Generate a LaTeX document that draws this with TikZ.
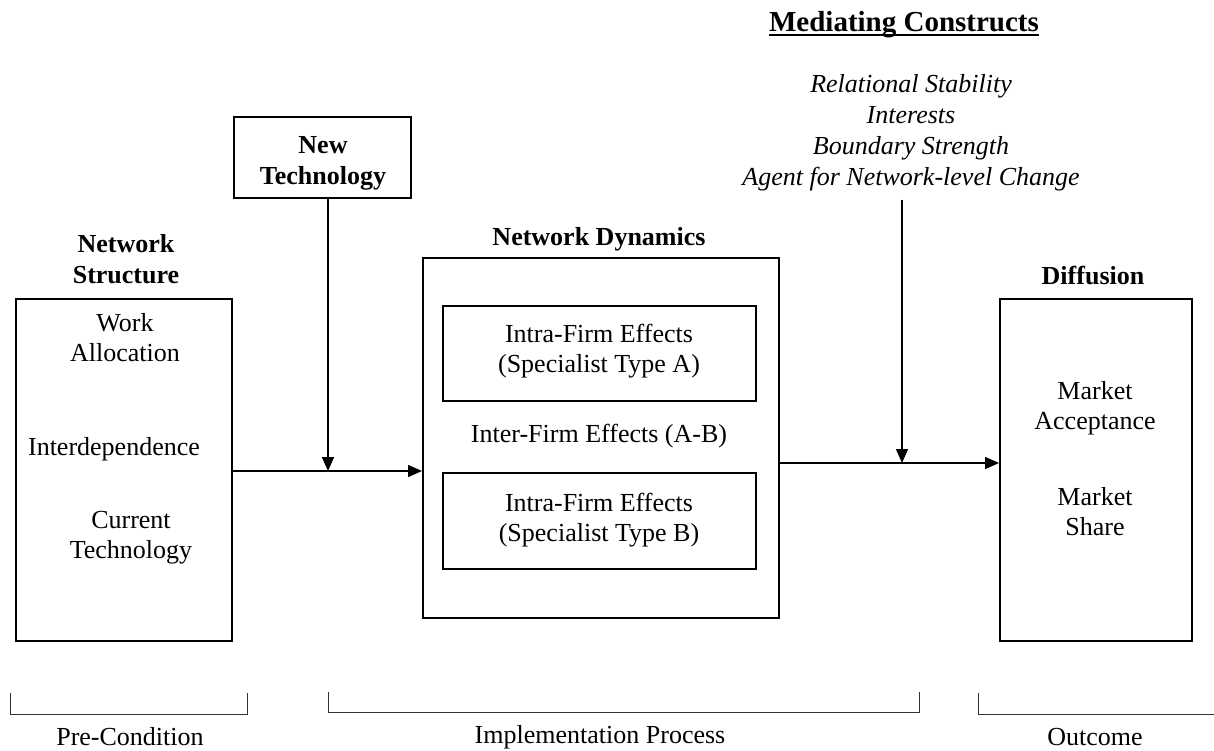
\documentclass[tikz,border=0pt]{standalone}
\usepackage{fontspec}
\setmainfont{Liberation Serif}
\usetikzlibrary{arrows.meta}
\begin{document}
\begin{tikzpicture}[x=1pt,y=-1pt,
  box/.style={draw, line width=2pt, inner sep=0pt},
  ibox/.style={draw, line width=1.6pt, inner sep=0pt},
  txt/.style={align=center, inner sep=0pt, font=\fontsize{26}{30}\selectfont},
  btxt/.style={align=center, inner sep=0pt, font=\fontsize{26}{31}\selectfont\bfseries},
  itxt/.style={align=center, inner sep=0pt, font=\fontsize{26}{31}\selectfont\itshape},
  conn/.style={line width=1.5pt},
  arr/.style={conn, -{Triangle[length=14pt,width=12pt]}},
  brk/.style={line width=1pt, draw=black!80}
]
\useasboundingbox (0,0) rectangle (1214,751);

% Network Structure
\node[btxt] (nst) at (126,259) {Network\\Structure};
\node[box, minimum width=216pt, minimum height=342pt] (ns) at (124,470) {};
\node[txt] (wa) at (125,338) {Work\\Allocation};
\node[txt] (id) at (114,449) {Interdependence};
\node[txt] (ct) at (131,538) {Current\\Technology};

% New Technology
\node[box, minimum width=177pt, minimum height=81pt] (nt) at (322.5,157.5) {};
\node[btxt] (ntt) at (323,163) {New\\Technology};

% Network Dynamics
\node[btxt] (ndt) at (599,239) {Network Dynamics};
\node[box, minimum width=356pt, minimum height=360pt] (nd) at (601,438) {};
\node[ibox, minimum width=313pt, minimum height=95pt] (ba) at (599.5,353.5) {};
\node[txt] (bat) at (599,351) {Intra-Firm Effects\\(Specialist Type A)};
\node[txt] (inter) at (599,436) {Inter-Firm Effects (A-B)};
\node[ibox, minimum width=313pt, minimum height=96pt] (bb) at (599.5,521) {};
\node[txt] (bbt) at (599,520) {Intra-Firm Effects\\(Specialist Type B)};

% Diffusion
\node[btxt] (dft) at (1093,276) {Diffusion};
\node[box, minimum width=192pt, minimum height=342pt] (df) at (1096,470) {};
\node[txt] (ma) at (1095,408) {Market\\Acceptance};
\node[txt] (ms) at (1095,512) {Market\\Share};

% Mediating constructs
\node[align=center, inner sep=0pt, font=\fontsize{29}{34}\selectfont\bfseries] (mc) at (904,25) {Mediating Constructs};
\draw[line width=2pt] ([yshift=-3.5pt]mc.base west) -- ([yshift=-3.5pt]mc.base east);
\node[itxt] (ml) at (911,132.5) {Relational Stability\\Interests\\Boundary Strength\\Agent for Network-level Change};

% connectors
\coordinate (j1) at (328,471);
\draw[conn] (ns.east |- j1) -- (j1);
\draw[arr] (j1) -- (nd.west |- j1);
\draw[arr] (nt.south -| j1) -- (j1);
\coordinate (j2) at (902,463);
\coordinate (m0) at (902,200);
\draw[conn] (nd.east |- j2) -- (j2);
\draw[arr] (j2) -- (df.west |- j2);
\draw[arr] (m0) -- (j2);

% brackets
\draw[brk] (10,693) -- (10,714) -- (247,714) -- (247,693);
\draw[brk] (328,692) -- (328,712) -- (919,712) -- (919,692);
\draw[brk] (978,693) -- (978,714) -- (1214,714);
\node[txt] (pc) at (130,737) {Pre-Condition};
\node[txt] (ip) at (600,737) {Implementation Process};
\node[txt] (oc) at (1095,737) {Outcome};
\end{tikzpicture}
\end{document}
